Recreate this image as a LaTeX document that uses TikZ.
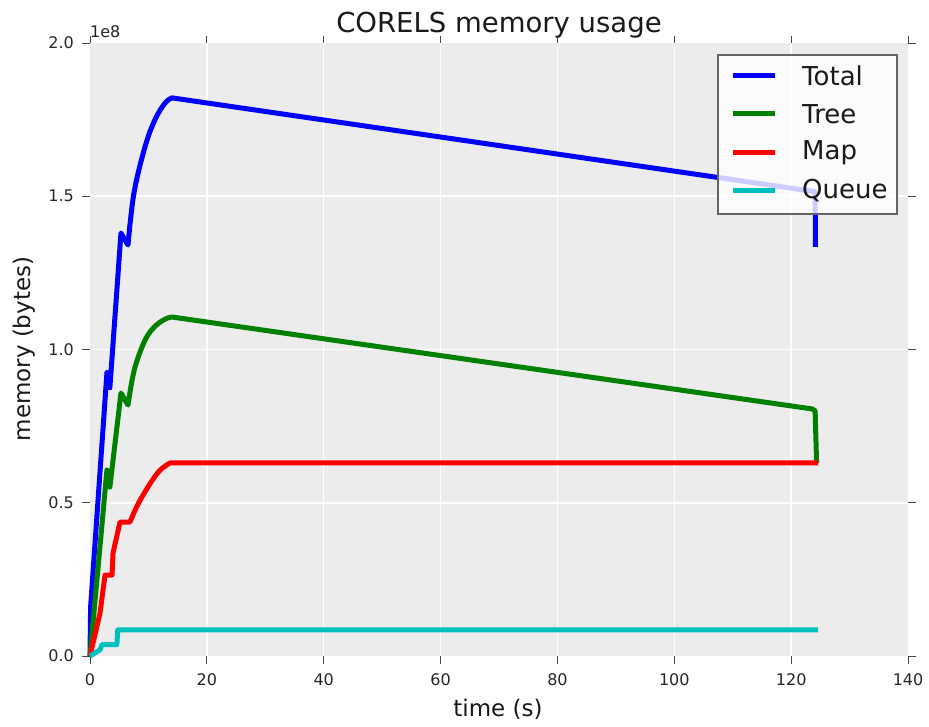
\documentclass[tikz,border=0pt]{standalone}
\usepackage{fontspec}
\setmainfont{DejaVu Sans}
\definecolor{bgpanel}{RGB}{236,236,236}
\definecolor{tickc}{RGB}{70,70,70}
\definecolor{mplgreen}{RGB}{0,128,0}
\definecolor{mplcyan}{RGB}{0,191,191}
\definecolor{legedge}{RGB}{100,100,100}
\tikzset{
  gridline/.style={draw=white, line width=1.5pt},
  tickmark/.style={draw=tickc, line width=0.9pt},
  curve/.style={line width=5pt, line join=round},
  ticklbl/.style={font=\fontsize{16}{19}\selectfont, text=black!85, inner sep=0pt},
  biglbl/.style={font=\fontsize{23}{27}\selectfont, text=black!90, inner sep=0pt},
  leglbl/.style={font=\fontsize{26}{30}\selectfont, text=black!90, inner sep=0pt, anchor=west}
}
\begin{document}
\begin{tikzpicture}[x=1pt,y=-1pt]
\useasboundingbox (0,0) rectangle (929,727);
% panel
\fill[bgpanel] (90,43) rectangle (908,656);
% data scope
\begin{scope}[shift={(90,656)}, x=5.843pt, y=306.5pt]
  % grid
  \foreach \t in {20,40,...,120} \draw[gridline] (\t,0) -- (\t,2);
  \foreach \v in {0.5,1.0,1.5} \draw[gridline] (0,\v) -- (140,\v);
  % ticks
  \foreach \t in {0,20,...,140} {
    \draw[tickmark] (\t,0) -- ++(0,-8pt);
    \draw[tickmark] (\t,2) -- ++(0,7pt);
    \node[ticklbl] (xt\t) at ([yshift=-24pt]\t,0) {\t};
  }
  \foreach \v/\l in {0/0.0,0.5/0.5,1/1.0,1.5/1.5,2/2.0} {
    \draw[tickmark] (0,\v) -- ++(-8pt,0);
    \draw[tickmark] (140,\v) -- ++(8pt,0);
    \node[ticklbl, anchor=east] (yt\l) at ([xshift=-16pt]0,\v) {\l};
  }
  % curves
  \draw[curve, blue] (0,0) -- (0.1,0.16) -- (2.9,0.925) -- (3.4,0.875) -- (5.3,1.38) -- (6.5,1.341)
     -- plot[smooth, tension=0.6] coordinates {(6.5,1.341) (7.53,1.511) (9.41,1.661) (11.1,1.749) (12.84,1.804) (14.03,1.821)}
     -- (124.1,1.515) -- (124.15,1.335);
  \draw[curve, mplgreen] (0,0) -- (2.9,0.607) -- (3.4,0.551) -- (5.3,0.858) -- (6.5,0.819)
     -- plot[smooth, tension=0.6] coordinates {(6.5,0.819) (7.6,0.935) (9.41,1.03) (11.1,1.075) (12.84,1.099) (14.03,1.106)}
     -- (123.6,0.806) -- (124.1,0.80) -- (124.35,0.63);
  \draw[curve, red] (0,0) -- (1.71,0.14) -- (2.57,0.264) -- (3.77,0.264) -- (3.94,0.336) -- (5.13,0.437) -- (6.85,0.437)
     -- plot[smooth, tension=0.6] coordinates {(6.85,0.437) (8.2,0.495) (10.27,0.562) (11.98,0.606) (13.7,0.63)}
     -- (124.6,0.63);
  \draw[curve, mplcyan] (0,0) -- (0.86,0.01) -- (1.71,0.02) -- (2.05,0.037) -- (4.6,0.037) -- (4.75,0.085) -- (124.6,0.085);
\end{scope}
% legend
\draw[legedge, line width=1.2pt, fill=white, fill opacity=0.8] (718,55) rectangle (897,214);
\foreach \yy/\c/\n/\nm in {76/blue/Total/lt, 114/mplgreen/Tree/lr, 153/red/Map/lm, 191/mplcyan/Queue/lq} {
  \draw[line width=5pt, \c] (733,\yy) -- (775,\yy);
  \node[leglbl] (\nm) at (802,\yy) {\n};
}
% labels
\node[font=\fontsize{27.5}{32}\selectfont, text=black!90, inner sep=0pt, anchor=base] (title) at (499,33) {CORELS memory usage};
\node[ticklbl, anchor=base west] (mult) at (90,38) {1e8};
\node[biglbl] (xlab) at (498,709) {time (s)};
\node[biglbl, rotate=90] (ylab) at (24,349) {memory (bytes)};
\end{tikzpicture}
\end{document}
